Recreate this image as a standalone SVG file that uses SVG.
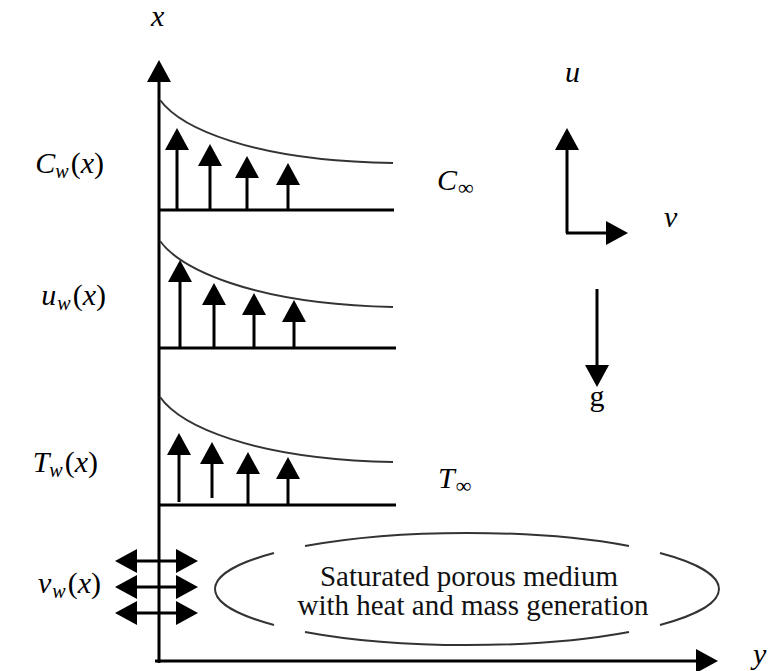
<svg xmlns="http://www.w3.org/2000/svg" width="769" height="671" viewBox="0 0 769 671">
<style>
.ln{stroke:#000;stroke-width:3;fill:none}
.ar{stroke:#000;stroke-width:3;fill:none;marker-end:url(#ah)}
.da{stroke:#000;stroke-width:3;fill:none;marker-start:url(#ah);marker-end:url(#ah)}
.cv{stroke:#333;stroke-width:2;fill:none}
.el{stroke:#333;stroke-width:2;fill:none}
text{font-family:'Liberation Serif','DejaVu Serif',serif}
.m{font-size:30px;fill:#000}
.lb{text-anchor:end}
.i{font-style:italic}
.s{font-size:20px;font-style:italic}
.t{font-size:29px;fill:#111;text-anchor:middle}
</style>
<defs>
<marker id="ah" viewBox="0 0 22 24" refX="1" refY="12" markerWidth="22" markerHeight="24" markerUnits="userSpaceOnUse" orient="auto-start-reverse">
<path d="M0,0 L22,12 L0,24 z" fill="#000"/>
</marker>
</defs>
<rect width="769" height="671" fill="#fff"/>

<g id="axes">
<line class="ar" x1="159" y1="663" x2="159" y2="81"/>
<line class="ar" x1="155" y1="661" x2="697" y2="661"/>
<text class="m i" x="151" y="26">x</text>
<text class="m i" x="753" y="664">y</text>
</g>

<g id="concentration-profile">
<line class="ln" x1="159" y1="210" x2="394" y2="210"/>
<path class="cv" d="M160,100 C180,127 250,161 393,163"/>
<text class="m lb" x="104" y="173"><tspan class="i">C</tspan><tspan class="s" dy="5">w</tspan><tspan dx="2" dy="-5">(</tspan><tspan class="i">x</tspan>)</text>
<text class="m" x="437" y="190"><tspan class="i">C</tspan><tspan font-size="22" dx="1" dy="5">∞</tspan></text>
</g>

<g id="velocity-profile">
<line class="ln" x1="159" y1="348" x2="396" y2="348"/>
<path class="cv" d="M160,241 C180,268 250,304 393,307"/>
<text class="m lb" x="106" y="305"><tspan class="i">u</tspan><tspan class="s" dx="1" dy="5">w</tspan><tspan dx="2" dy="-5">(</tspan><tspan class="i">x</tspan>)</text>
</g>

<g id="temperature-profile">
<line class="ln" x1="159" y1="505" x2="396" y2="505"/>
<path class="cv" d="M160,397 C180,425 250,459 393,462"/>
<text class="m lb" x="98" y="472"><tspan class="i">T</tspan><tspan class="s" dy="5">w</tspan><tspan dx="2" dy="-5">(</tspan><tspan class="i">x</tspan>)</text>
<text class="m" x="438" y="488"><tspan class="i">T</tspan><tspan font-size="22" dx="1" dy="5">∞</tspan></text>
</g>

<g id="suction-label">
<text class="m lb" x="101" y="593"><tspan class="i">v</tspan><tspan class="s" dx="1" dy="5">w</tspan><tspan dx="2" dy="-5">(</tspan><tspan class="i">x</tspan>)</text>
</g>

<g id="porous-medium">
<path class="el" d="M629,546 A252,56 0 0 0 305,546"/>
<path class="el" d="M274,553 A252,56 0 0 0 274,625"/>
<path class="el" d="M305,632 A252,56 0 0 0 629,632"/>
<path class="el" d="M660,625 A252,56 0 0 0 660,553"/>
<text class="t" x="469" y="586">Saturated porous medium</text>
<text class="t" x="473" y="615">with heat and mass generation</text>
</g>

<g id="coordinate-frame">
<text class="m i" x="565" y="82">u</text>
<text class="m i" x="664" y="227">v</text>
<text class="m" x="597" y="406" text-anchor="middle">g</text>
</g>

<g id="connectors">
<line class="ar" x1="177" y1="210" x2="177" y2="149"/>
<line class="ar" x1="210" y1="210" x2="210" y2="165"/>
<line class="ar" x1="247" y1="210" x2="247" y2="177"/>
<line class="ar" x1="288" y1="210" x2="288" y2="184"/>

<line class="ar" x1="180" y1="348" x2="180" y2="281"/>
<line class="ar" x1="214" y1="348" x2="214" y2="304"/>
<line class="ar" x1="254" y1="348" x2="254" y2="314"/>
<line class="ar" x1="294" y1="348" x2="294" y2="321"/>

<line class="ar" x1="179" y1="502" x2="179" y2="454"/>
<line class="ar" x1="212" y1="498" x2="212" y2="463"/>
<line class="ar" x1="248" y1="505" x2="248" y2="473"/>
<line class="ar" x1="288" y1="505" x2="288" y2="478"/>

<line class="da" x1="136" y1="561" x2="177" y2="561"/>
<line class="da" x1="136" y1="587" x2="177" y2="587"/>
<line class="da" x1="136" y1="613" x2="177" y2="613"/>

<line class="ar" x1="567" y1="233" x2="567" y2="149"/>
<line class="ar" x1="566" y1="233" x2="607" y2="233"/>
<line class="ar" x1="597" y1="289" x2="597" y2="366"/>
</g>
</svg>
